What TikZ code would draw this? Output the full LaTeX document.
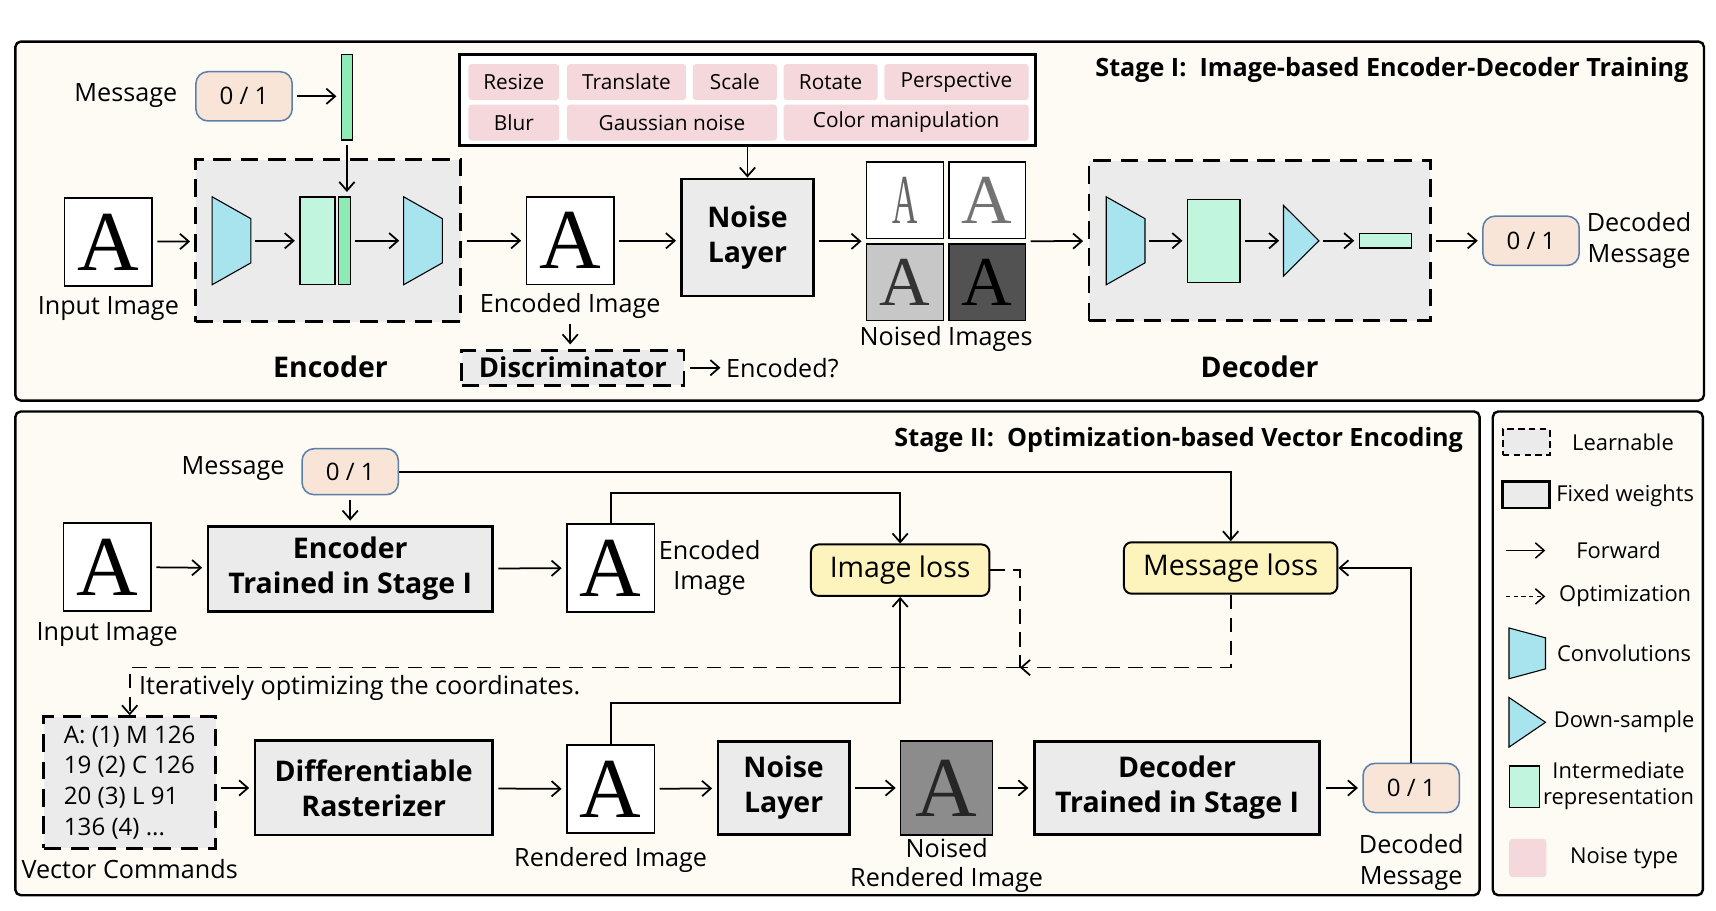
\documentclass[tikz,border=0pt]{standalone}
\usepackage{fontspec}
\usepackage{graphicx}
\setmainfont{Open Sans}
\newfontfamily\glyphfont{Liberation Serif}
\usetikzlibrary{arrows.meta,positioning,calc,fit}
\definecolor{panelbg}{HTML}{FDFBF3}
\definecolor{boxgray}{HTML}{EBEBEB}
\definecolor{noisepink}{HTML}{F5D8DB}
\definecolor{convcyan}{HTML}{A8E4EE}
\definecolor{featmint}{HTML}{C1F5DE}
\definecolor{codegreen}{HTML}{8EEBB5}
\definecolor{bitpeach}{HTML}{F8E5D7}
\definecolor{bitblue}{HTML}{5B80A8}
\definecolor{lossyellow}{HTML}{FDF3BD}
\definecolor{nrgray}{HTML}{8C8C8C}
\tikzset{
  panel/.style={draw, line width=2.2pt, fill=panelbg, rounded corners=5pt},
  fixedbox/.style={draw, line width=2.6pt, fill=boxgray, align=center, inner sep=0pt,
    font=\fontsize{26}{32}\selectfont\bfseries},
  learnbox/.style={draw, line width=2.6pt, fill=boxgray, dash pattern=on 16pt off 9pt, inner sep=0pt},
  imgbox/.style={draw, line width=1.6pt, fill=white, inner sep=0pt, minimum width=80pt,
    minimum height=80pt, font=\fontsize{78}{78}\glyphfont},
  noisedbox/.style={draw, line width=1.2pt, inner sep=0pt, minimum size=70pt,
    font=\fontsize{64}{64}\glyphfont},
  bitbox/.style={draw=bitblue, line width=1.4pt, fill=bitpeach, rounded corners=11pt,
    minimum width=88pt, minimum height=45pt, font=\fontsize{22}{24}\selectfont},
  lossbox/.style={draw, line width=1.8pt, fill=lossyellow, rounded corners=7pt,
    minimum height=47pt, font=\fontsize{26}{28}\selectfont},
  ntype/.style={fill=noisepink, rounded corners=3pt, minimum height=33pt, inner sep=0pt,
    font=\fontsize{19}{22}\selectfont},
  convbox/.style={inner sep=0pt, minimum width=35pt, minimum height=80pt},
  convline/.style={draw, line width=1pt, fill=convcyan},
  featbox/.style={draw, line width=1.2pt, fill=featmint, inner sep=0pt},
  lbl/.style={inner sep=1pt, align=center, font=\fontsize{23}{28}\selectfont},
  lgtext/.style={inner sep=1pt, align=center, font=\fontsize{20}{24}\selectfont},
  boldlbl/.style={font=\fontsize{26}{30}\selectfont\bfseries},
  stagetitle/.style={inner sep=0pt, font=\fontsize{23}{26}\selectfont\bfseries},
  fwd/.style={-{Straight Barb[length=8pt,width=14pt]}, line width=1.6pt,
    shorten <=4pt, shorten >=4pt},
  wire/.style={-{Straight Barb[length=8pt,width=14pt]}, line width=1.6pt},
  optline/.style={line width=1.6pt, dash pattern=on 13pt off 8pt},
}
% trapezoid drawn on a named node: tall left edge, short right edge
\newcommand{\convdraw}[2][20]{%
  \draw[convline] (#2.north west) -- ([yshift=-#1pt]#2.north east)
    -- ([yshift=#1pt]#2.south east) -- (#2.south west) -- cycle;}
\newcommand{\tridraw}[1]{%
  \draw[convline] (#1.north west) -- (#1.east) -- (#1.south west) -- cycle;}

\begin{document}
\begin{tikzpicture}[x=1pt,y=-1pt]
  \useasboundingbox (0,0) rectangle (1568,832);
  \draw[panel] (14,38) rectangle (1557,366);
  \draw[panel] (14,376) rectangle (1352,818);
  \draw[panel] (1364,376) rectangle (1556,818);

  % ---------------- Stage I ----------------
  \node[stagetitle, anchor=east] (t1) at (1543,64)
    {Stage I:\ \ Image-based Encoder-Decoder Training};

  \node[lbl] (m1lab) at (115,87) {Message};
  \node[bitbox] (m1) at (223,88) {0 / 1};
  \node[featbox, fill=codegreen, minimum width=10pt, minimum height=78pt] (code1) at (317,89) {};
  \draw[fwd] (m1.east) -- (m1.east -| code1.west);

  \node[learnbox, minimum width=242pt, minimum height=148pt] (enc1) at (300,220) {};
  \node[imgbox] (in1) at (99,221) {A};
  \node[lbl, below=8pt of in1] (in1lab) {Input Image};
  \node[convbox] (cv1) at (211.5,220) {};
  \node[featbox, minimum width=32pt, minimum height=80pt] (ft1) at (290,220) {};
  \node[featbox, fill=codegreen, minimum width=11pt, minimum height=80pt] (cb1) at (314.5,220) {};
  \node[convbox] (cv2) at (386.5,220) {};
  \convdraw{cv1}
  \convdraw{cv2}
  \draw[fwd] (in1) -- (enc1);
  \draw[fwd] (cv1) -- (ft1);
  \draw[fwd] (cb1) -- (cv2);
  \draw[fwd] (code1) -- (code1 |- cb1.north);
  \node[boldlbl] (enc1lab) at (302,335) {Encoder};

  \node[imgbox] (e1) at (521,220) {A};
  \node[lbl, below=6pt of e1] (e1lab) {Encoded Image};
  \draw[fwd] (enc1) -- (e1);
  \node[learnbox, minimum width=203pt, minimum height=32pt,
    font=\fontsize{25}{30}\selectfont\bfseries] (disc) at (523.5,336) {Discriminator};
  \draw[fwd] (e1lab.south) -- (e1lab.south |- disc.north);
  \node[lbl, right=36pt of disc] (encq) {Encoded?};
  \draw[fwd] (disc) -- (encq);

  % noise types
  \node[draw, line width=2.6pt, fill=white, minimum width=526pt, minimum height=83pt] (ntypes) at (683,91.5) {};
  \foreach \cx/\cy/\cw/\ct [count=\k] in {469.5/75/83/Resize, 572.5/75/109/Translate,
      671.5/75/77/Scale, 759/75/86/Rotate, 874/75/132/Perspective,
      469.5/112/83/Blur, 614/112/192/Gaussian noise, 828/112/224/Color manipulation}
    \node[ntype, minimum width=\cw pt] (nt\k) at (\cx,\cy) {\ct};

  \node[fixedbox, minimum width=120pt, minimum height=107pt] (nl1) at (683,217) {Noise\\Layer};
  \draw[wire] (ntypes) -- (nl1);
  \draw[fwd] (e1) -- (e1 -| nl1.west);

  % noised images
  \node[noisedbox, fill=white] (na) at (827,183) {\scalebox{0.5}[1]{\textcolor{black!60}{A}}};
  \node[noisedbox, fill=white, text=black!55] (nb) at (902,183) {A};
  \node[noisedbox, fill=black!22, text=black!80] (nc) at (827,258) {A};
  \node[noisedbox, fill=black!68] (nd) at (902,258) {A};
  \node[fit=(na)(nb)(nc)(nd), inner sep=0pt] (nsd) {};
  \node[lbl, below=3pt of nsd] (nsdlab) {Noised Images};
  \draw[fwd] (nl1.east |- nsd) -- (nsd);

  % decoder
  \node[learnbox, minimum width=312pt, minimum height=146pt] (dec1) at (1151,220) {};
  \node[convbox] (dcv) at (1028.5,220) {};
  \convdraw{dcv}
  \node[featbox, minimum width=48pt, minimum height=76pt] (dft) at (1109,220) {};
  \node[inner sep=0pt, minimum width=32pt, minimum height=64pt] (dtri) at (1189,220) {};
  \tridraw{dtri}
  \node[featbox, minimum width=48pt, minimum height=13pt] (dvec) at (1266,220) {};
  \draw[fwd] (nsd) -- (dec1);
  \draw[fwd] (dcv) -- (dft);
  \draw[fwd] (dft) -- (dtri);
  \draw[fwd] (dtri) -- (dvec);
  \node[boldlbl] (dec1lab) at (1151,335) {Decoder};
  \node[bitbox] (m1out) at (1399,220) {0 / 1};
  \draw[fwd] (dec1) -- (m1out);
  \node[lbl, right=5pt of m1out] (m1outlab) {Decoded\\Message};

  % ---------------- Stage II ----------------
  \node[stagetitle, anchor=east] (t2) at (1337,402)
    {Stage II:\ \ Optimization-based Vector Encoding};

  \node[lbl] (m2lab) at (213,428) {Message};
  \node[bitbox, minimum height=42pt] (m2) at (320,431) {0 / 1};
  \node[imgbox] (in2) at (98,518) {A};
  \node[lbl, below=9pt of in2] (in2lab) {Input Image};
  \node[fixedbox, minimum width=260pt, minimum height=78pt] (enc2) at (320,520) {Encoder\\Trained in Stage I};
  \node[imgbox] (e2) at (558,519) {A};
  \node[lbl, right=2pt of e2] (e2lab) {Encoded\\Image};
  \node[lossbox, minimum width=163pt] (iloss) at (822.5,521) {Image loss};
  \node[lossbox, minimum width=195pt] (mloss) at (1124.5,519) {Message loss};
  \draw[fwd] (in2) -- (enc2);
  \draw[fwd] (enc2) -- (e2);
  \draw[fwd] (m2) -- (enc2);
  \draw[wire] (m2) -| (mloss);
  \draw[wire] (e2.north) -- ++(0,-28) -| (iloss);

  % bottom row
  \node[learnbox, align=left, minimum width=157pt, minimum height=120pt,
    font=\fontsize{22}{28}\selectfont] (vec) at (118.5,715)
    {A: (1) M 126\\19 (2) C 126\\20 (3) L 91\\136 (4) ...};
  \node[lbl, below=8pt of vec] (veclab) {Vector Commands};
  \node[fixedbox, minimum width=217pt, minimum height=86pt] (rast) at (341.5,720) {Differentiable\\Rasterizer};
  \node[imgbox] (r2) at (558,721) {A};
  \node[lbl, below=11pt of r2] (r2lab) {Rendered Image};
  \node[fixedbox, minimum width=120pt, minimum height=85pt] (nl2) at (716,720) {Noise\\Layer};
  \node[imgbox, line width=1.2pt, fill=nrgray, text=black!85, minimum width=84pt, minimum height=86pt] (nr2) at (865,720) {A};
  \node[lbl, below=1pt of nr2, font=\fontsize{23}{27}\selectfont] (nr2lab) {Noised\\Rendered Image};
  \node[fixedbox, minimum width=261pt, minimum height=85pt] (dec2) at (1075.5,720) {Decoder\\Trained in Stage I};
  \node[bitbox] (m3) at (1289.5,720) {0 / 1};
  \node[lbl, below=18pt of m3] (m3lab) {Decoded\\Message};
  \draw[fwd] (vec.east |- rast) -- (rast);
  \draw[fwd] (rast) -- (r2);
  \draw[fwd] (r2) -- (nl2);
  \draw[fwd] (nl2) -- (nr2);
  \draw[fwd] (nr2) -- (dec2);
  \draw[fwd] (dec2) -- (m3);
  \draw[wire] (m3) |- (mloss);
  \draw[wire] (r2.north) -- ++(0,-38) -| (iloss);

  % optimization loop
  \coordinate (optj) at (932,610);
  \draw[optline] (iloss.east) -| (optj);
  \draw[optline, -{Straight Barb[length=8pt,width=14pt]}] (mloss.south) |- (optj);
  \draw[optline, -{Straight Barb[length=8pt,width=14pt]}] (optj) -| (vec.north);
  \node[lbl, anchor=west] (iterlab) at (126,629) {Iteratively optimizing the coordinates.};

  % ---------------- legend ----------------
  \node[learnbox, line width=2pt, dash pattern=on 6pt off 4pt, minimum width=43pt, minimum height=24pt] (lg1) at (1394.5,404) {};
  \node[lgtext] at (1483,404) {Learnable};
  \node[fixedbox, line width=2.2pt, minimum width=43pt, minimum height=24pt] (lg2) at (1394.5,452) {};
  \node[lgtext] at (1485,453) {Fixed weights};
  \coordinate (lg3a) at (1376,503);
  \coordinate (lg3b) at (1412,503);
  \draw[wire, line width=1.4pt] (lg3a) -- (lg3b);
  \node[lgtext] at (1479,503) {Forward};
  \coordinate (lg4a) at (1376,545);
  \coordinate (lg4b) at (1412,545);
  \draw[wire, line width=1.4pt, dash pattern=on 4pt off 3pt] (lg4a) -- (lg4b);
  \node[lgtext] at (1485,545) {Optimization};
  \node[inner sep=0pt, minimum width=33pt, minimum height=46pt] (lg5) at (1395.5,597) {};
  \convdraw[9]{lg5}
  \node[lgtext] at (1484,597) {Convolutions};
  \node[inner sep=0pt, minimum width=33pt, minimum height=45pt] (lg6) at (1395.5,660) {};
  \tridraw{lg6}
  \node[lgtext] at (1484,660) {Down-sample};
  \node[featbox, minimum width=28pt, minimum height=38pt] (lg7) at (1393,719) {};
  \node[lgtext, font=\fontsize{20}{23}\selectfont] at (1479,718) {Intermediate\\representation};
  \node[ntype, minimum width=34pt, minimum height=35pt] (lg8) at (1396,784) {};
  \node[lgtext] at (1484,784) {Noise type};
\end{tikzpicture}
\end{document}
